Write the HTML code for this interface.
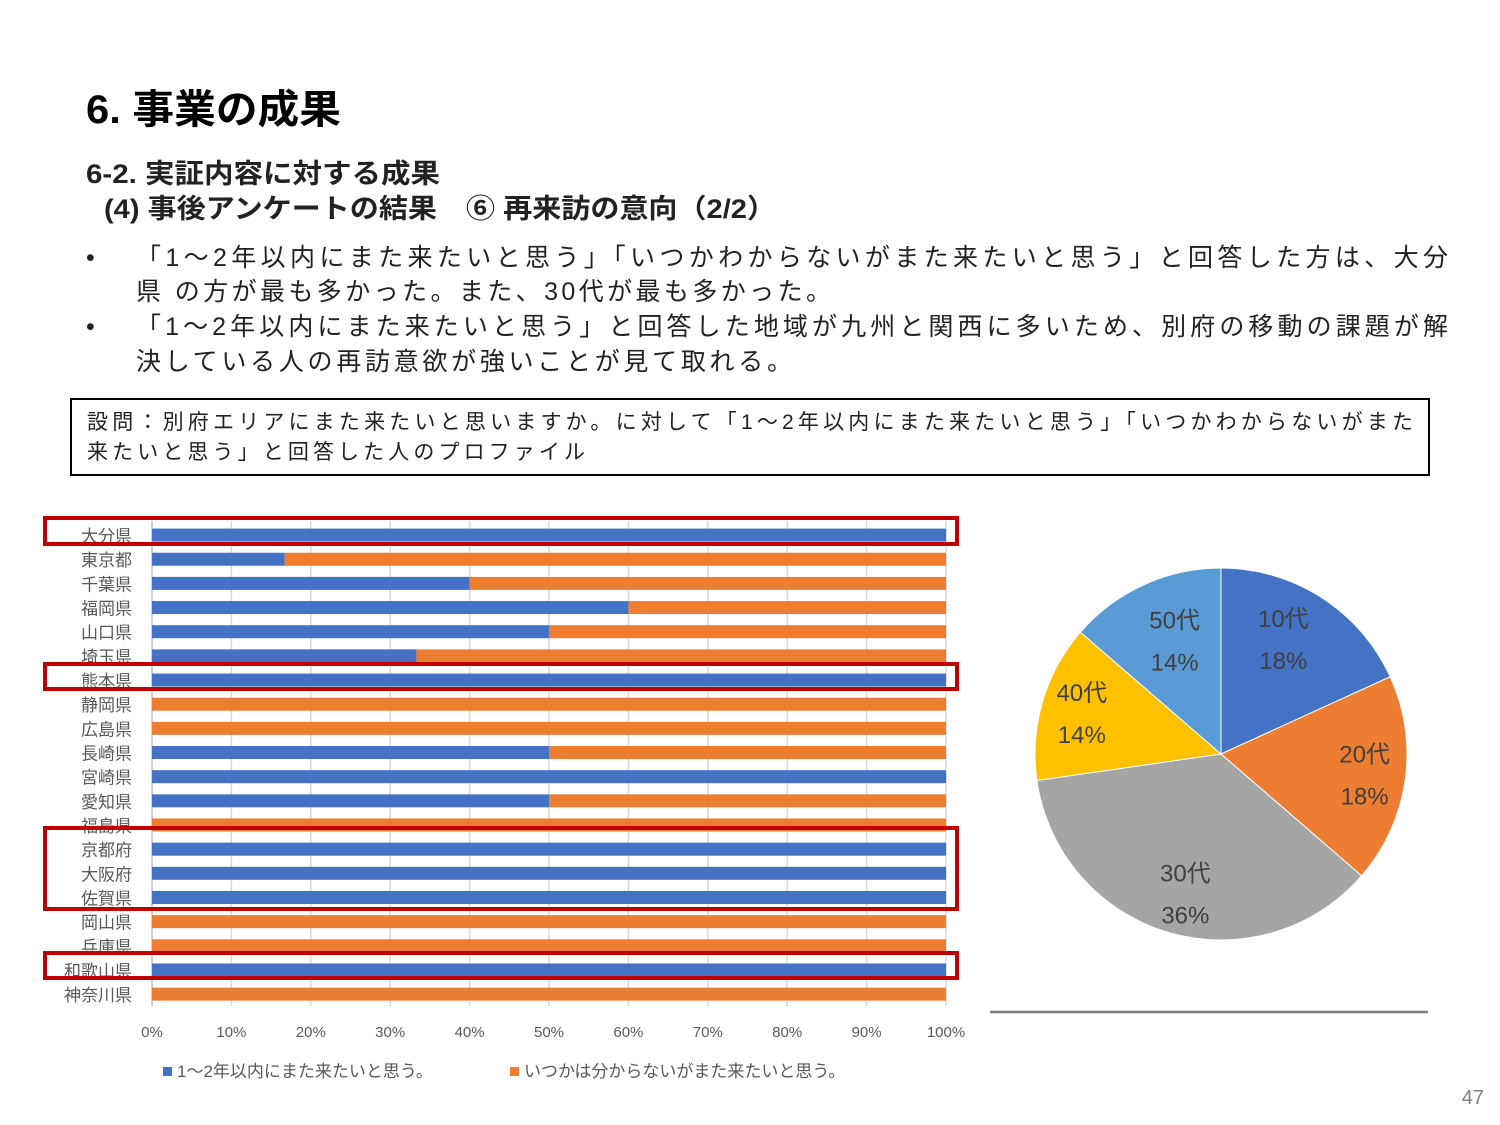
<!DOCTYPE html>
<html><head><meta charset="utf-8">
<style>
html,body{margin:0;padding:0;background:#fff;}
svg{display:block;}
text{font-family:"Liberation Sans","Noto Sans CJK JP",sans-serif;}
</style></head>
<body>
<svg id="root" width="1500" height="1125" viewBox="0 0 1500 1125" xmlns="http://www.w3.org/2000/svg">
  <text x="86" y="123" font-size="40" font-weight="bold" fill="#000" textLength="255" lengthAdjust="spacingAndGlyphs">6. 事業の成果</text>
  <text x="86" y="183" font-size="27" font-weight="bold" fill="#222" textLength="354" lengthAdjust="spacingAndGlyphs">6-2. 実証内容に対する成果</text>
  <text x="104" y="218" font-size="27" font-weight="bold" fill="#222" textLength="672" lengthAdjust="spacingAndGlyphs">(4) 事後アンケートの結果　⑥ 再来訪の意向（2/2）</text>

  <g font-size="25" fill="#222">
    <text x="86" y="266">•</text>
    <text x="136" y="266" textLength="1312" lengthAdjust="spacing">「1～2年以内にまた来たいと思う」「いつかわからないがまた来たいと思う」と回答した方は、大分</text>
    <text x="136" y="300" textLength="695" lengthAdjust="spacing">県 の方が最も多かった。また、30代が最も多かった。</text>
    <text x="86" y="335">•</text>
    <text x="136" y="335" textLength="1312" lengthAdjust="spacing">「1～2年以内にまた来たいと思う」と回答した地域が九州と関西に多いため、別府の移動の課題が解</text>
    <text x="136" y="370" textLength="656" lengthAdjust="spacing">決している人の再訪意欲が強いことが見て取れる。</text>
  </g>

  <g>
    <rect x="71" y="399" width="1358" height="76" fill="#fff" stroke="#000" stroke-width="2"/>
    <text x="87" y="429" font-size="21" fill="#222" textLength="1326" lengthAdjust="spacing">設問：別府エリアにまた来たいと思いますか。に対して「1～2年以内にまた来たいと思う」「いつかわからないがまた</text>
    <text x="87" y="459" font-size="21" fill="#222" textLength="498" lengthAdjust="spacing">来たいと思う」と回答した人のプロファイル</text>
  </g>

  <g id="bar-chart"></g>
  <g id="pie-chart"></g>

  <line x1="990" y1="1012" x2="1428" y2="1012" stroke="#7f7f7f" stroke-width="2.5"/>

  <g fill="none" stroke="#c00000" stroke-width="4">
    <rect x="45" y="518" width="912" height="26"/>
    <rect x="45" y="664" width="912" height="25"/>
    <rect x="45" y="828" width="912" height="81"/>
    <rect x="45" y="953" width="912" height="25"/>
  </g>

  <text x="1484" y="1104" font-size="20" fill="#7f7f7f" text-anchor="end">47</text>
</svg>
<script>
const categories = ["大分県","東京都","千葉県","福岡県","山口県","埼玉県","熊本県","静岡県","広島県","長崎県","宮崎県","愛知県","福島県","京都府","大阪府","佐賀県","岡山県","兵庫県","和歌山県","神奈川県"];
const soonValues = [100,16.7,40,60,50,33.3,100,0,0,50,100,50,0,100,100,100,0,0,100,0];
const somedayValues = [0,83.3,60,40,50,66.7,0,100,100,50,0,50,100,0,0,0,100,100,0,100];
const xTicks = [0,10,20,30,40,50,60,70,80,90,100];
const seriesNames = ["1～2年以内にまた来たいと思う。","いつかは分からないがまた来たいと思う。"];

const pieLabels = ["10代","20代","30代","40代","50代"];
const pieValues = [4,4,8,3,3];
const piePercents = ["18%","18%","36%","14%","14%"];
// label radius factor / vertical shift per slice (layout, not data)
const labelRadius = [0.62,0.78,0.68,0.78,0.6];
const labelShift = [-18,0,18,0,-12];

const NS = "http://www.w3.org/2000/svg";
function mk(tag, attrs, parent){const e=document.createElementNS(NS,tag);for(const k in attrs)e.setAttribute(k,attrs[k]);parent.appendChild(e);return e;}

const bar = document.getElementById('bar-chart');
const X0=152, X1=946, Y0=523, ROW=24.16, BH=13;
const xScale = v => X0 + (X1-X0)*v/100;
const yCenter = i => Y0 + ROW*(i+0.5);
xTicks.forEach(t=>{
  const g = mk('line',{x1:xScale(t),x2:xScale(t),y1:Y0-2,y2:Y0+ROW*categories.length,stroke:t===0?'#bfbfbf':'#d9d9d9','stroke-width':1.5},bar);
  
  
  const tl = mk('text',{x:xScale(t),y:1037,'font-size':15,fill:'#595959','text-anchor':'middle'},bar);
  tl.textContent = t+'%';
  
  
});
categories.forEach((c,i)=>{
  const yc = yCenter(i);
  const a = soonValues[i], b = somedayValues[i];
  if(a>0){
    const r = mk('rect',{x:xScale(0),y:yc-BH/2,width:xScale(a)-xScale(0),height:BH,fill:'#4472c4'},bar);
    
    
  }
  if(b>0){
    const r = mk('rect',{x:xScale(a),y:yc-BH/2,width:xScale(a+b)-xScale(a),height:BH,fill:'#ed7d31'},bar);
    
    
  }
  const t = mk('text',{x:132,y:yc+7,'font-size':17,fill:'#595959','text-anchor':'end'},bar);
  t.textContent = c;
  
  
});
[[163,'#4472c4',177],[510,'#ed7d31',524]].forEach((L,k)=>{
  const s = mk('rect',{x:L[0],y:1067,width:9,height:9,fill:L[1]},bar);
  
  
  const t = mk('text',{x:L[2],y:1077,'font-size':17,fill:'#595959'},bar);
  t.textContent = seriesNames[k];
  
  
});

const pie = document.getElementById('pie-chart');
const CX=1221, CY=754, R=186;
const colors = ['#4472c4','#ed7d31','#a5a5a5','#ffc000','#5b9bd5'];
const total = pieValues.reduce((s,v)=>s+v,0);
let acc = 0;
pieValues.forEach((v,i)=>{
  const a0 = acc/total*2*Math.PI, a1=(acc+v)/total*2*Math.PI; acc+=v;
  const p = (a)=>[CX+R*Math.sin(a), CY-R*Math.cos(a)];
  const [x0,y0]=p(a0),[x1,y1]=p(a1);
  const large = (a1-a0)>Math.PI?1:0;
  const path = mk('path',{d:`M${CX},${CY} L${x0},${y0} A${R},${R} 0 ${large} 1 ${x1},${y1} Z`,fill:colors[i],stroke:'#fff','stroke-width':1},pie);
  
  
  const am=(a0+a1)/2, lr=R*labelRadius[i];
  const lx = CX+lr*Math.sin(am), ly = CY-lr*Math.cos(am)+labelShift[i];
  const t1 = mk('text',{x:lx,y:ly-12,'font-size':24,fill:'#404040','text-anchor':'middle'},pie);
  t1.textContent = pieLabels[i];
  
  
  const t2 = mk('text',{x:lx,y:ly+30,'font-size':24,fill:'#404040','text-anchor':'middle'},pie);
  t2.textContent = piePercents[i];
  
  
});
</script>
</body></html>
